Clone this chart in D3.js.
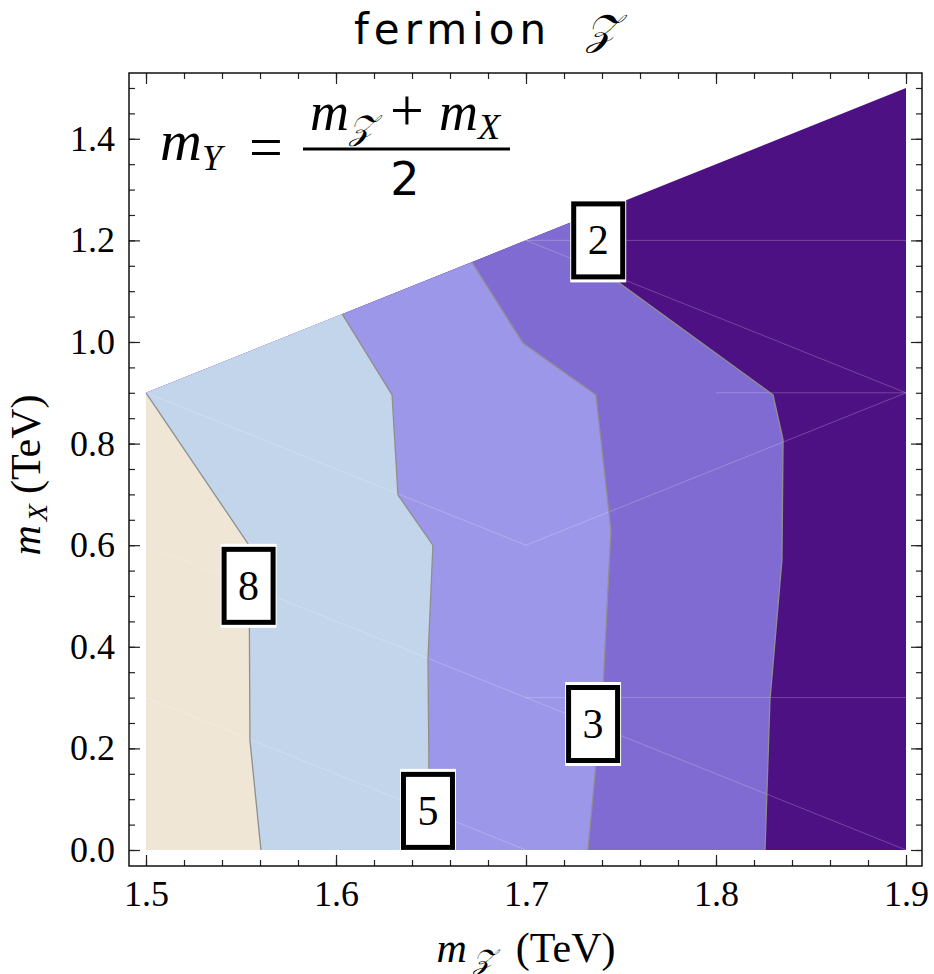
<!DOCTYPE html>
<html>
<head>
<meta charset="utf-8">
<script src="https://cdn.jsdelivr.net/npm/d3@7"></script>
<style>
  html, body { margin: 0; padding: 0; background: #fff; }
  svg { display: block; }
</style>
</head>
<body>
<svg id="chart" width="934" height="974"></svg>
<script>
// Contour lines of the event count, traced from the top edge of the
// allowed region down to m_X = 0. Units: TeV.
const contourLevels = [8, 5, 3, 2];
const contour8 = [[1.5, 0.9], [1.5542, 0.6], [1.5547, 0.216], [1.5605, 0]];
const contour5 = [[1.6033, 1.055], [1.6295, 0.896], [1.6326, 0.699], [1.651, 0.6], [1.6484, 0.374], [1.6489, 0.177], [1.6484, 0]];
const contour3 = [[1.6716, 1.157], [1.6984, 0.998], [1.7368, 0.896], [1.7447, 0.63], [1.7405, 0.315], [1.7326, 0]];
const contour2 = [[1.738, 1.257], [1.7484, 1.118], [1.83, 0.896], [1.8353, 0.807], [1.8347, 0.571], [1.8284, 0.295], [1.8258, 0]];

// Allowed region in the (m_Z, m_X) plane
const regionCorners = [[1.5, 0], [1.9, 0], [1.9, 1.5], [1.5, 0.9]];

// Band colours, from the highest level (left) to below the lowest (right)
const bandColors = ["#efe6d6", "#c2d5ea", "#9c97e8", "#7f6bd1", "#4e1184"];

// Label positions for the contour levels
const labelX = [1.554, 1.6484, 1.7353, 1.738];
const labelY = [0.52, 0.077, 0.248, 1.2];

// Faint interpolation mesh edges
const meshEdges = [
  [[1.5, 0.9], [1.7, 0.6]],
  [[1.5, 0.6], [1.7, 0.3]],
  [[1.5, 0.3], [1.7, 0.0]],
  [[1.7, 1.2], [1.9, 0.9]],
  [[1.7, 0.6], [1.9, 0.9]],
  [[1.7, 0.3], [1.9, 0.0]],
  [[1.7, 1.2], [1.9, 1.2]],
  [[1.8, 0.9], [1.9, 0.9]],
  [[1.7, 0.3], [1.9, 0.3]]
];

// Axis ticks
const xMajorTicks = [1.5, 1.6, 1.7, 1.8, 1.9];
const xMinorTicks = d3.range(0, 21).map(i => +(1.5 + i * 0.02).toFixed(2));
const yMajorTicks = [0, 0.2, 0.4, 0.6, 0.8, 1.0, 1.2, 1.4];
const yMinorTicks = d3.range(0, 31).map(i => +(i * 0.05).toFixed(2));

const serif = '"Liberation Serif", "Times New Roman", Times, serif';
const sans = '"DejaVu Sans", sans-serif';

const svg = d3.select("#chart");
const frame = { left: 129, right: 922, top: 73, bottom: 866 };

const x = d3.scaleLinear().domain([1.49105, 1.90842]).range([frame.left, frame.right]);
const y = d3.scaleLinear().domain([-0.0315, 1.5295]).range([frame.bottom, frame.top]);

const line = d3.line().x(d => x(d[0])).y(d => y(d[1]));
const poly = pts => line(pts) + "Z";

// Filled bands: paint the whole region, then successively the parts left of each contour
const plot = svg.append("g");
plot.append("path").attr("d", poly(regionCorners)).attr("fill", bandColors[4]);
const contours = [contour2, contour3, contour5, contour8];
const fills = [bandColors[3], bandColors[2], bandColors[1], bandColors[0]];
contours.forEach((c, i) => {
  plot.append("path")
    .attr("d", poly([...c, [1.5, 0], [1.5, 0.9]]))
    .attr("fill", fills[i]);
});

// Mesh edges
plot.selectAll("line.mesh").data(meshEdges).join("line")
  .attr("class", "mesh")
  .attr("x1", d => x(d[0][0])).attr("y1", d => y(d[0][1]))
  .attr("x2", d => x(d[1][0])).attr("y2", d => y(d[1][1]))
  .attr("stroke", "#ffffff").attr("stroke-opacity", 0.22).attr("stroke-width", 1);

// Contour lines
contours.forEach(c => {
  plot.append("path").attr("d", line(c))
    .attr("fill", "none").attr("stroke", "#8f8f8f").attr("stroke-width", 1.3);
});

// Contour labels
const labels = svg.append("g");
contourLevels.forEach((lev, i) => {
  const cx = x(labelX[i]), cy = y(labelY[i]);
  const w = 54, h = 78;
  labels.append("rect").attr("x", cx - w / 2 - 1).attr("y", cy - h / 2 - 3)
    .attr("width", w + 2).attr("height", h + 6).attr("fill", "#fff");
  labels.append("rect").attr("x", cx - w / 2 + 2.5).attr("y", cy - h / 2 + 2.5)
    .attr("width", w - 5).attr("height", h - 5)
    .attr("fill", "#fff").attr("stroke", "#000").attr("stroke-width", 5);
  labels.append("text").attr("x", cx).attr("y", cy + 14)
    .attr("text-anchor", "middle")
    .attr("font-family", serif).attr("font-size", 42)
    .text(lev);
});

// Axes with inward ticks on all four sides
function styleAxis(g) {
  g.select(".domain").remove();
  g.selectAll(".tick line").attr("stroke", "#222").attr("stroke-width", 1.2);
  g.attr("font-family", serif).attr("font-size", 36);
  g.selectAll(".tick text").attr("fill", "#000");
}
const fmt = d3.format(".1f");
svg.append("g").attr("transform", `translate(0,${frame.bottom})`)
  .call(d3.axisBottom(x).tickValues(xMinorTicks).tickSize(-6).tickFormat("")).call(styleAxis);
svg.append("g").attr("transform", `translate(0,${frame.bottom})`)
  .call(d3.axisBottom(x).tickValues(xMajorTicks).tickSize(-11).tickPadding(14).tickFormat(fmt)).call(styleAxis);
svg.append("g").attr("transform", `translate(0,${frame.top})`)
  .call(d3.axisTop(x).tickValues(xMinorTicks).tickSize(-6).tickFormat("")).call(styleAxis);
svg.append("g").attr("transform", `translate(0,${frame.top})`)
  .call(d3.axisTop(x).tickValues(xMajorTicks).tickSize(-11).tickFormat("")).call(styleAxis);
svg.append("g").attr("transform", `translate(${frame.left},0)`)
  .call(d3.axisLeft(y).tickValues(yMinorTicks).tickSize(-6).tickFormat("")).call(styleAxis);
svg.append("g").attr("transform", `translate(${frame.left},0)`)
  .call(d3.axisLeft(y).tickValues(yMajorTicks).tickSize(-11).tickPadding(14).tickFormat(fmt)).call(styleAxis);
svg.append("g").attr("transform", `translate(${frame.right},0)`)
  .call(d3.axisRight(y).tickValues(yMinorTicks).tickSize(-6).tickFormat("")).call(styleAxis);
svg.append("g").attr("transform", `translate(${frame.right},0)`)
  .call(d3.axisRight(y).tickValues(yMajorTicks).tickSize(-11).tickFormat("")).call(styleAxis);

// Frame
svg.append("rect").attr("x", frame.left).attr("y", frame.top)
  .attr("width", frame.right - frame.left).attr("height", frame.bottom - frame.top)
  .attr("fill", "none").attr("stroke", "#000").attr("stroke-width", 1.4);

// Title
svg.append("text").attr("x", 354).attr("y", 44)
  .attr("font-family", sans).attr("font-size", 42)
  .call(t => {
    t.append("tspan").attr("letter-spacing", 5).text("fermion");
    t.append("tspan").attr("x", 586).attr("font-family", serif).attr("font-style", "italic").text("𝒵");
  });

// Mass relation
const formula = svg.append("g").attr("font-family", serif);
formula.append("text").attr("x", 160).attr("y", 160).attr("font-size", 58)
  .call(t => {
    t.append("tspan").attr("font-style", "italic").text("m");
    t.append("tspan").attr("font-style", "italic").attr("font-size", 36).attr("dy", 10).text("Y");
  });
formula.append("text").attr("x", 266).attr("y", 167).attr("text-anchor", "middle")
  .attr("font-size", 60).text("=");
formula.append("line").attr("x1", 303).attr("x2", 510).attr("y1", 149).attr("y2", 149)
  .attr("stroke", "#000").attr("stroke-width", 3);
formula.append("text").attr("x", 405).attr("y", 130).attr("text-anchor", "middle").attr("font-size", 54)
  .call(t => {
    t.append("tspan").attr("font-style", "italic").text("m");
    t.append("tspan").attr("font-style", "italic").attr("font-size", 34).attr("dy", 9).text("𝒵");
    t.append("tspan").attr("dy", -9).attr("font-size", 60).text(" + ");
    t.append("tspan").attr("font-style", "italic").text("m");
    t.append("tspan").attr("font-style", "italic").attr("font-size", 36).attr("dy", 9).text("X");
  });
formula.append("text").attr("x", 405).attr("y", 195).attr("text-anchor", "middle")
  .attr("font-family", sans).attr("font-size", 46).text("2");

// Axis titles
svg.append("text").attr("x", 526).attr("y", 962).attr("text-anchor", "middle")
  .attr("font-family", serif).attr("font-size", 42)
  .call(t => {
    t.append("tspan").attr("font-style", "italic").text("m");
    t.append("tspan").attr("font-style", "italic").attr("font-size", 28).attr("dx", 6).attr("dy", 7).text("𝒵");
    t.append("tspan").attr("dx", 22).attr("dy", -7).text("(TeV)");
  });
svg.append("text").attr("transform", "translate(40,475) rotate(-90)").attr("text-anchor", "middle")
  .attr("font-family", serif).attr("font-size", 42)
  .call(t => {
    t.append("tspan").attr("font-style", "italic").text("m");
    t.append("tspan").attr("font-style", "italic").attr("font-size", 28).attr("dx", 4).attr("dy", 7).text("X");
    t.append("tspan").attr("dx", 10).attr("dy", -7).text("(TeV)");
  });
</script>
</body>
</html>
